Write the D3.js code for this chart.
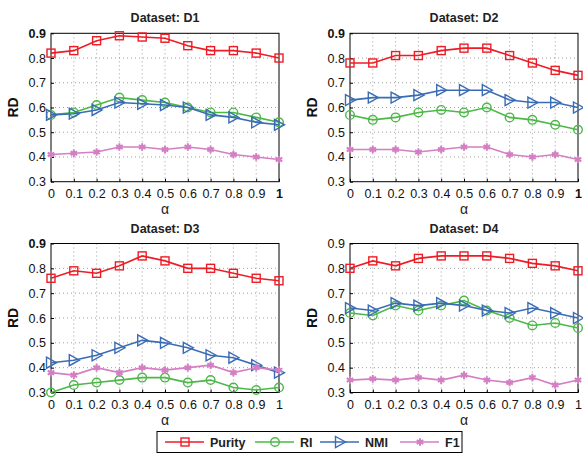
<!DOCTYPE html>
<html><head><meta charset="utf-8">
<script src="https://cdn.jsdelivr.net/npm/d3@7"></script>
<style>body{margin:0;background:#fff}svg{display:block}text{font-family:"Liberation Sans",Arial,sans-serif}</style>
</head><body><svg id="c" width="583" height="453"></svg>
<script>
const alphas = [0,0.1,0.2,0.3,0.4,0.5,0.6,0.7,0.8,0.9,1];
const xTickLabels = ["0","0.1","0.2","0.3","0.4","0.5","0.6","0.7","0.8","0.9","1"];
const yTicks = [0.3,0.4,0.5,0.6,0.7,0.8,0.9];
const datasets = ["D1","D2","D3","D4"];
const seriesNames = ["Purity","RI","NMI","F1"];
const purity = [
 [0.82,0.83,0.87,0.89,0.885,0.88,0.85,0.83,0.83,0.82,0.80],
 [0.78,0.78,0.81,0.81,0.83,0.84,0.84,0.81,0.78,0.75,0.73],
 [0.76,0.79,0.78,0.81,0.85,0.83,0.80,0.80,0.78,0.76,0.75],
 [0.80,0.83,0.81,0.84,0.85,0.85,0.85,0.84,0.82,0.81,0.79]];
const ri = [
 [0.57,0.58,0.61,0.64,0.63,0.62,0.60,0.58,0.58,0.56,0.54],
 [0.57,0.55,0.56,0.58,0.59,0.58,0.60,0.56,0.55,0.53,0.51],
 [0.30,0.33,0.34,0.35,0.36,0.36,0.34,0.35,0.32,0.31,0.32],
 [0.62,0.61,0.65,0.63,0.65,0.67,0.63,0.60,0.57,0.58,0.56]];
const nmi = [
 [0.57,0.575,0.59,0.62,0.615,0.61,0.60,0.57,0.56,0.54,0.53],
 [0.63,0.64,0.64,0.65,0.67,0.67,0.67,0.63,0.62,0.62,0.60],
 [0.42,0.43,0.45,0.48,0.51,0.50,0.48,0.45,0.44,0.41,0.38],
 [0.64,0.63,0.66,0.65,0.66,0.65,0.63,0.62,0.64,0.62,0.60]];
const f1 = [
 [0.41,0.415,0.42,0.44,0.44,0.43,0.44,0.43,0.41,0.40,0.39],
 [0.43,0.43,0.43,0.42,0.43,0.44,0.44,0.41,0.40,0.41,0.39],
 [0.38,0.37,0.40,0.38,0.40,0.39,0.40,0.41,0.38,0.40,0.39],
 [0.35,0.355,0.35,0.36,0.35,0.37,0.35,0.34,0.36,0.33,0.35]];
const colors = ["#ee1c25","#4cb848","#3a6cb5","#d47fc4"];
const markers = ["square","circle","triangle","star"];
const allSeries = [purity, ri, nmi, f1];

const svg = d3.select("#c");
const panels = [
 {x0:51, x1:279, y0:33.3, y1:181.7},
 {x0:350, x1:578, y0:33.3, y1:181.7},
 {x0:51, x1:279, y0:243.5, y1:392.5},
 {x0:350, x1:578, y0:243.5, y1:392.5}];

function drawMarker(g, type, x, y, color){
  if(type==="square"){
    g.append("rect").attr("x",x-4).attr("y",y-4).attr("width",8).attr("height",8)
      .attr("fill","none").attr("stroke",color).attr("stroke-width",1.4);
  } else if(type==="circle"){
    g.append("circle").attr("cx",x).attr("cy",y).attr("r",4.3)
      .attr("fill","none").attr("stroke",color).attr("stroke-width",1.4);
  } else if(type==="triangle"){
    g.append("path").attr("d",`M${x-4.5},${y-5.5}L${x+5.5},${y}L${x-4.5},${y+5.5}Z`)
      .attr("fill","none").attr("stroke",color).attr("stroke-width",1.4);
  } else {
    const s = d3.symbol().type(d3.symbolAsterisk).size(40)();
    g.append("path").attr("d",s).attr("transform",`translate(${x},${y})`)
      .attr("fill","none").attr("stroke",color).attr("stroke-width",2);
    g.append("circle").attr("cx",x).attr("cy",y).attr("r",2.2).attr("fill",color);
  }
}

panels.forEach((p, i) => {
  const x = d3.scaleLinear().domain([0,1]).range([p.x0,p.x1]);
  const y = d3.scaleLinear().domain([0.3,0.9]).range([p.y1,p.y0]);
  const g = svg.append("g");
  // grid
  g.selectAll(".gx").data(alphas.slice(1,-1)).join("line")
    .attr("x1",d=>x(d)).attr("x2",d=>x(d)).attr("y1",p.y0).attr("y2",p.y1)
    .attr("stroke","#888").attr("stroke-width",0.8).attr("stroke-dasharray","1,3");
  g.selectAll(".gy").data(yTicks.slice(1,-1)).join("line")
    .attr("x1",p.x0).attr("x2",p.x1).attr("y1",d=>y(d)).attr("y2",d=>y(d))
    .attr("stroke","#888").attr("stroke-width",0.8).attr("stroke-dasharray","1,3");
  // axes
  const xa = g.append("g").attr("transform",`translate(0,${p.y1})`)
    .call(d3.axisBottom(x).tickValues(alphas).tickFormat((d,k)=>xTickLabels[k]).tickSizeInner(-3).tickSizeOuter(0).tickPadding(6));
  const ya = g.append("g").attr("transform",`translate(${p.x0},0)`)
    .call(d3.axisLeft(y).tickValues(yTicks).tickFormat(d3.format(".1f")).tickSizeInner(-3).tickSizeOuter(0).tickPadding(5));
  [xa,ya].forEach(a=>{
    a.select(".domain").remove();
    a.selectAll("line").attr("stroke","#000");
    a.selectAll("text").attr("font-size",12.5).attr("fill","#111");
  });
  xa.selectAll("text").attr("dy","0.85em");
  if(i<2){
    xa.selectAll("text").filter((d,k)=>k===10).attr("font-weight","bold");
  }
  if(i<3){
    ya.selectAll("text").filter(d=>d===0.9).attr("font-weight","bold");
  }
  g.append("rect").attr("x",p.x0).attr("y",p.y0).attr("width",p.x1-p.x0).attr("height",p.y1-p.y0)
    .attr("fill","none").attr("stroke","#000").attr("stroke-width",1);
  // titles
  g.append("text").attr("x",(p.x0+p.x1)/2).attr("y",p.y0-11).attr("text-anchor","middle")
    .attr("font-size",12.5).attr("font-weight","bold").attr("fill","#222").text("Dataset: "+datasets[i]);
  g.append("text").attr("transform",`translate(${p.x0-33},${(p.y0+p.y1)/2}) rotate(-90)`)
    .attr("text-anchor","middle").attr("font-size",14).attr("font-weight","bold").attr("fill","#111").text("RD");
  g.append("text").attr("x",(p.x0+p.x1)/2).attr("y",p.y1+32).attr("text-anchor","middle")
    .attr("font-size",14).attr("font-family","DejaVu Serif, serif").attr("fill","#222").text("α");
  // series
  allSeries.forEach((s, si) => {
    const vals = s[i];
    const line = d3.line().x((d,k)=>x(alphas[k])).y(d=>y(d));
    g.append("path").attr("d",line(vals)).attr("fill","none").attr("stroke",colors[si]).attr("stroke-width",1.6);
    vals.forEach((v,k)=>drawMarker(g, markers[si], x(alphas[k]), y(v), colors[si]));
  });
});

// legend
const lg = svg.append("g");
lg.append("rect").attr("x",157).attr("y",431.5).attr("width",305).attr("height",21)
  .attr("fill","#fff").attr("stroke","#000").attr("stroke-width",1);
const legX = [165, 255, 320, 400];
const legLabelX = [210, 298, 364, 443];
seriesNames.forEach((n, si) => {
  const cx = legX[si];
  const cy = 442;
  lg.append("line").attr("x1",cx).attr("x2",cx+39).attr("y1",cy).attr("y2",cy).attr("stroke",colors[si]).attr("stroke-width",1.6);
  drawMarker(lg, markers[si], cx+20, cy, colors[si]);
  lg.append("text").attr("x",cx+45).attr("y",cy+4.5).attr("font-size",12.5).attr("font-weight","bold").attr("fill","#222").text(n);
});
</script></body></html>
